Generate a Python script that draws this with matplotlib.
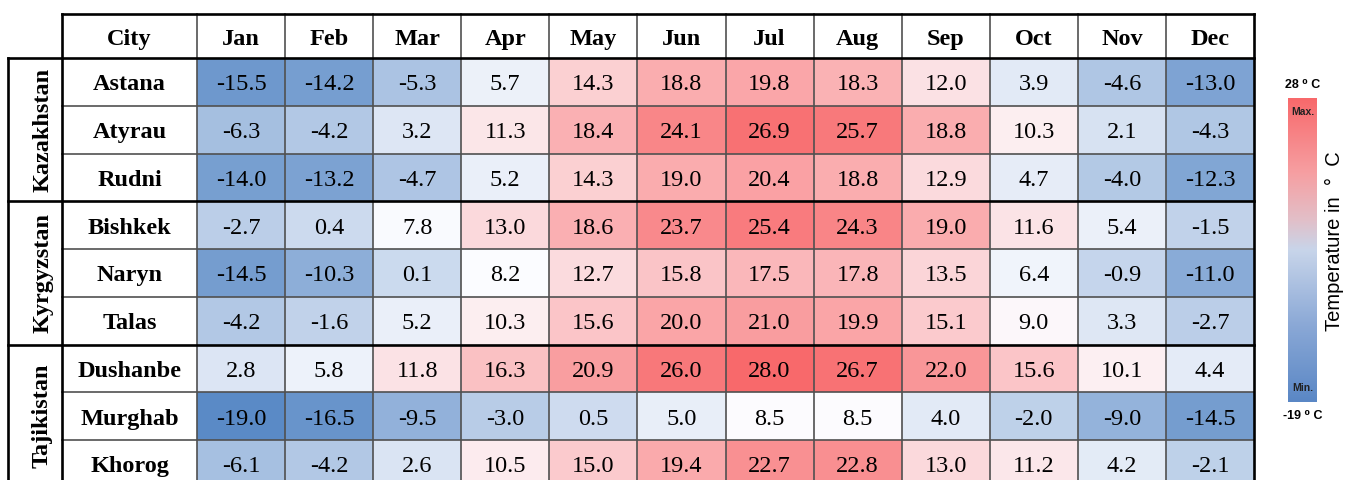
import numpy as np
import matplotlib.pyplot as plt
from matplotlib.colors import LinearSegmentedColormap, TwoSlopeNorm

countries = ["Kazakhstan", "Kyrgyzstan", "Tajikistan"]
group_sizes = [3, 3, 3]
cities = ["Astana", "Atyrau", "Rudni", "Bishkek", "Naryn", "Talas",
          "Dushanbe", "Murghab", "Khorog"]
months = ["Jan", "Feb", "Mar", "Apr", "May", "Jun",
          "Jul", "Aug", "Sep", "Oct", "Nov", "Dec"]
temps = np.array([
    [-15.5, -14.2, -5.3, 5.7, 14.3, 18.8, 19.8, 18.3, 12.0, 3.9, -4.6, -13.0],
    [-6.3, -4.2, 3.2, 11.3, 18.4, 24.1, 26.9, 25.7, 18.8, 10.3, 2.1, -4.3],
    [-14.0, -13.2, -4.7, 5.2, 14.3, 19.0, 20.4, 18.8, 12.9, 4.7, -4.0, -12.3],
    [-2.7, 0.4, 7.8, 13.0, 18.6, 23.7, 25.4, 24.3, 19.0, 11.6, 5.4, -1.5],
    [-14.5, -10.3, 0.1, 8.2, 12.7, 15.8, 17.5, 17.8, 13.5, 6.4, -0.9, -11.0],
    [-4.2, -1.6, 5.2, 10.3, 15.6, 20.0, 21.0, 19.9, 15.1, 9.0, 3.3, -2.7],
    [2.8, 5.8, 11.8, 16.3, 20.9, 26.0, 28.0, 26.7, 22.0, 15.6, 10.1, 4.4],
    [-19.0, -16.5, -9.5, -3.0, 0.5, 5.0, 8.5, 8.5, 4.0, -2.0, -9.0, -14.5],
    [-6.1, -4.2, 2.6, 10.5, 15.0, 19.4, 22.7, 22.8, 13.0, 11.2, 4.2, -2.1],
])

W, H = 1346, 480
fig = plt.figure(figsize=(W / 100, H / 100), dpi=100)

# table geometry (pixels -> cell units)
col_px = (1254 - 197) / 12
row_px = 47.75
city_w = (197 - 62) / col_px
country_w = (62 - 8) / col_px
head_h = 44 / row_px
x0 = -(city_w + country_w)
nrows, ncols = temps.shape
dy = 3 / row_px  # small downward nudge for the cell texts

top_px = 14
bottom_px = top_px + (head_h + nrows) * row_px
ax = fig.add_axes([8 / W, 1 - bottom_px / H, (1254 - 8) / W, (bottom_px - top_px) / H])
ax.set_xlim(x0, ncols)
ax.set_ylim(nrows, -head_h)
ax.axis("off")

# excel-like 3 colour scale, midpoint at the median
cmap = LinearSegmentedColormap.from_list("rwb", ["#5A8AC6", "#FCFCFF", "#F8696B"])
norm = TwoSlopeNorm(vmin=temps.min(), vcenter=np.median(temps), vmax=temps.max())
ax.pcolormesh(np.arange(ncols + 1), np.arange(nrows + 1), temps,
              cmap=cmap, norm=norm, clip_on=False)

serif = "Liberation Serif"
fs = 17.5
for i in range(nrows):
    for j in range(ncols):
        ax.text(j + 0.5, i + 0.5 + dy, f"{temps[i, j]:.1f}", ha="center", va="center",
                fontsize=fs, family=serif, clip_on=False)
    ax.text(-city_w / 2, i + 0.5 + dy, cities[i], ha="center", va="center",
            fontsize=fs, family=serif, fontweight="bold", clip_on=False)

for j, m in enumerate(months):
    ax.text(j + 0.5, -head_h / 2 + dy, m, ha="center", va="center",
            fontsize=fs, family=serif, fontweight="bold")
ax.text(-city_w / 2, -head_h / 2 + dy, "City", ha="center", va="center",
        fontsize=fs, family=serif, fontweight="bold")

start = 0
for c, n in zip(countries, group_sizes):
    ax.text(x0 + country_w * 0.64, start + n / 2, c, ha="center", va="center",
            rotation=90, fontsize=fs, family=serif, fontweight="bold", clip_on=False)
    start += n

# grid lines
thin = dict(color="#505050", lw=1.2, clip_on=False)
thick = dict(color="black", lw=1.9, clip_on=False)
for j in range(ncols):
    ax.plot([j, j], [-head_h, nrows], **thin)
bounds = np.cumsum(group_sizes)
for i in range(1, nrows):
    if i not in bounds:
        ax.plot([-city_w, ncols], [i, i], **thin)
ax.plot([-city_w, ncols], [-head_h, -head_h], **thick)
ax.plot([x0, ncols], [0, 0], **thick)
for b in bounds[:-1]:
    ax.plot([x0, ncols], [b, b], **thick)
ax.plot([x0, x0], [0, nrows], **thick)
ax.plot([-city_w, -city_w], [-head_h, nrows], **thick)
ax.plot([ncols, ncols], [-head_h, nrows], **thick)

# colour bar
bar_cmap = LinearSegmentedColormap.from_list("bar", [
    (0.0, "#5A87C5"), (0.25, "#8AA8D6"), (0.5, "#C8D5EA"),
    (0.6, "#E2BFC8"), (0.75, "#F6A0A3"), (1.0, "#F8696B")])
cax = fig.add_axes([1288 / W, 1 - 402 / H, 29 / W, 304 / H])
cax.imshow(np.linspace(0, 1, 256)[::-1, None], cmap=bar_cmap, aspect="auto",
           extent=[0, 1, 0, 1])
cax.set_xticks([])
cax.set_yticks([])
for s in cax.spines.values():
    s.set_visible(False)
sans = ["Liberation Sans", "DejaVu Sans"]
cax.text(0.5, 0.97, "Max.", ha="center", va="top", fontsize=7.5,
         fontweight="bold", family=sans, color="#222222")
cax.text(0.5, 0.03, "Min.", ha="center", va="bottom", fontsize=7.5,
         fontweight="bold", family=sans, color="#222222")
fig.text(1303 / W, 1 - 85 / H, f"{temps.max():.0f} \u2070 C", ha="center", va="center",
         fontsize=9, fontweight="bold", family=sans)
fig.text(1303 / W, 1 - 416 / H, f"{temps.min():.0f} \u2070 C", ha="center", va="center",
         fontsize=9, fontweight="bold", family=sans)
fig.text(1334 / W, 1 - 241 / H, "Temperature in  \u00b0  C", ha="center", va="center",
         rotation=90, fontsize=14.5, family=sans)

fig.savefig("out.png", dpi=100)
